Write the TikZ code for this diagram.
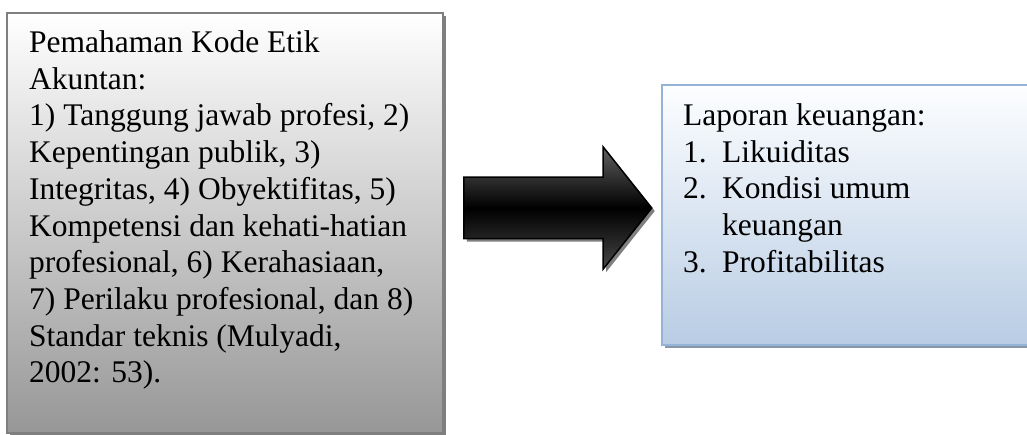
\documentclass[tikz,border=0pt]{standalone}
\usepackage{fontspec}
\setmainfont{Liberation Serif}
\usetikzlibrary{shapes.arrows,shadows}
\definecolor{etikline}{HTML}{7F7F7F}
\definecolor{etikbottom}{HTML}{979797}
\definecolor{lapline}{HTML}{95B3D7}
\definecolor{laptop}{HTML}{FDFEFF}
\definecolor{lapbottom}{HTML}{B8CCE4}
\definecolor{lapshadow}{HTML}{8796AA}
\begin{document}
\begin{tikzpicture}[x=1pt,y=-1pt,
  txt/.style={inner sep=0pt, align=left, anchor=north west, font=\fontsize{31.5}{36.7}\selectfont},
  graybox/.style={draw=etikline, line width=1.5pt, top color=white, bottom color=etikbottom,
    drop shadow={shadow xshift=3pt, shadow yshift=-3pt, fill=etikline, opacity=1}},
  bluebox/.style={draw=lapline, line width=1.5pt, top color=laptop, bottom color=lapbottom,
    drop shadow={shadow xshift=3pt, shadow yshift=-3pt, fill=lapshadow, opacity=1}},
  blockarrow/.style={single arrow, draw=black, line width=1.5pt, inner xsep=0pt, inner ysep=30pt,
    minimum height=188pt, single arrow head extend=30.5pt, single arrow head indent=0pt,
    single arrow tip angle=103, top color=black!62, bottom color=black!72, middle color=black,
    drop shadow={shadow xshift=3pt, shadow yshift=-3pt, fill=gray, opacity=1}}]
\useasboundingbox[fill=white] (0,0) rectangle (1027,435);
\node[graybox, minimum width=436pt, minimum height=420pt] (etik) at (225,223){};
\node[txt] (etiktxt) at (29,30.5){Pemahaman Kode Etik\\
Akuntan:\\
1) Tanggung jawab profesi, 2)\\
Kepentingan publik, 3)\\
Integritas, 4) Obyektifitas, 5)\\
Kompetensi dan kehati-hatian\\
profesional, 6) Kerahasiaan,\\
7) Perilaku profesional, dan 8)\\
Standar teknis (Mulyadi,\\
2002: 53).};
\node[blockarrow, anchor=tail] (panah) at (463,208){};
\node[bluebox, minimum width=378pt, minimum height=260pt] (lapor) at (851,215){};
\node[txt] (laportxt) at (683,103.5){Laporan keuangan:\\
\makebox[39pt][l]{1.}Likuiditas\\
\makebox[39pt][l]{2.}Kondisi umum\\
\hspace*{39pt}keuangan\\
\makebox[39pt][l]{3.}Profitabilitas};
\end{tikzpicture}
\end{document}
